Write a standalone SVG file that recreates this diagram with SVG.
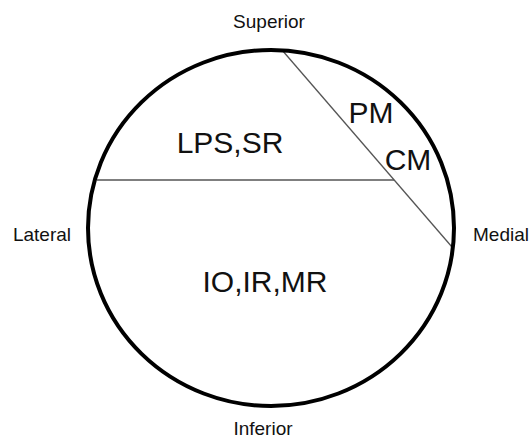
<svg xmlns="http://www.w3.org/2000/svg" width="531" height="439" viewBox="0 0 531 439">
<style>
.lbl{font-family:"Liberation Sans",Arial,sans-serif;font-size:19px;fill:#111}
.big{font-family:"Liberation Sans",Arial,sans-serif;font-size:30px;fill:#111}
.div{stroke:#555;stroke-width:1.3;fill:none}
</style>
<rect width="531" height="439" fill="#fff"/>
<g id="connectors">
<line class="div" x1="282" y1="50" x2="452" y2="247"/>
<line class="div" x1="97" y1="180" x2="394" y2="180"/>
</g>
<g id="orbit"><ellipse cx="271" cy="228" rx="183" ry="178" fill="none" stroke="#000" stroke-width="4"/></g>
<g id="superior"><text class="lbl" x="269" y="28" text-anchor="middle">Superior</text></g>
<g id="inferior"><text class="lbl" x="263" y="435" text-anchor="middle">Inferior</text></g>
<g id="lateral"><text class="lbl" x="42" y="241" text-anchor="middle">Lateral</text></g>
<g id="medial"><text class="lbl" x="501" y="241" text-anchor="middle">Medial</text></g>
<g id="lps"><text class="big" x="230" y="153" text-anchor="middle">LPS,SR</text></g>
<g id="pm"><text class="big" x="371" y="123" text-anchor="middle">PM</text></g>
<g id="cm"><text class="big" x="408" y="170" text-anchor="middle">CM</text></g>
<g id="io"><text class="big" x="265" y="292" text-anchor="middle">IO,IR,MR</text></g>
</svg>
